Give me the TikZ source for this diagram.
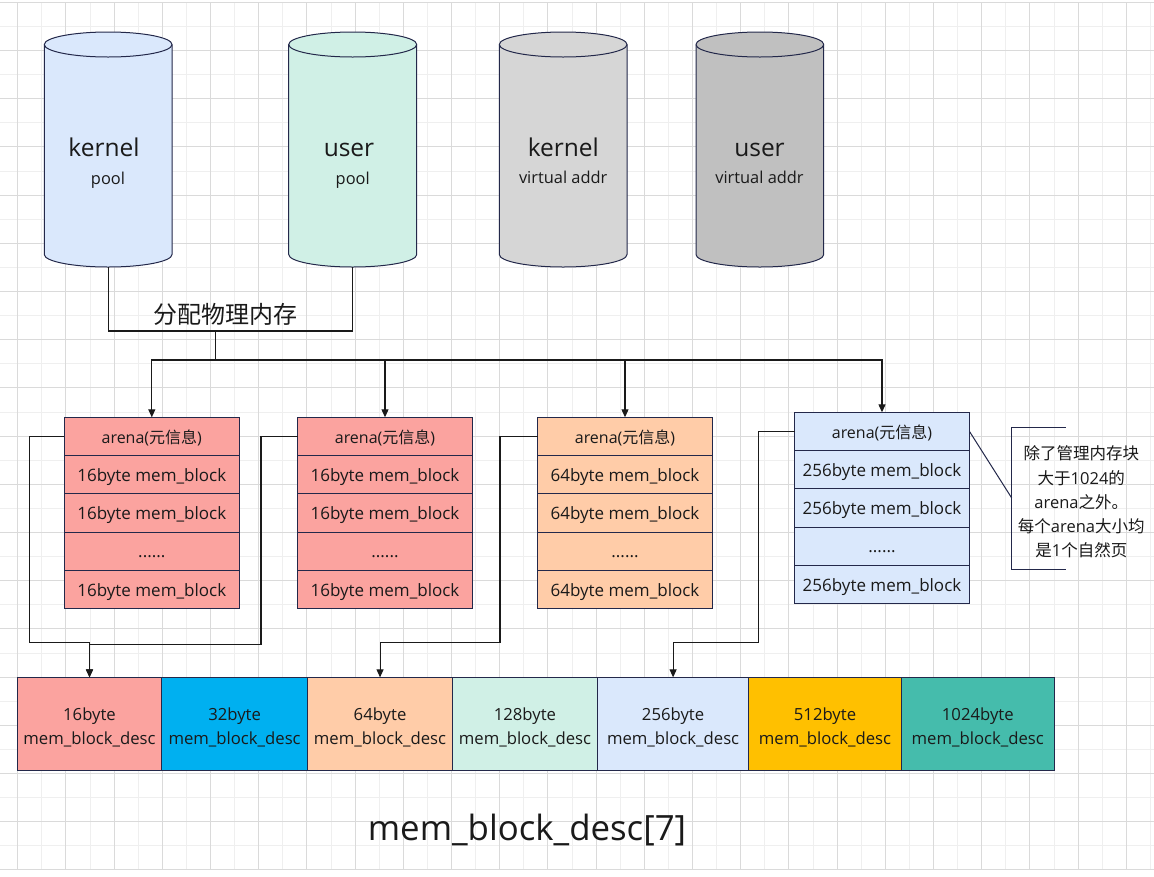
\documentclass[tikz,border=0pt]{standalone}
\usepackage{fontspec}
\setmainfont{Open Sans}
\newfontfamily\cjk{Noto Sans CJK SC}
\usetikzlibrary{arrows.meta}
\definecolor{navy}{HTML}{23284A}
\definecolor{ink}{HTML}{1A1A1A}
\definecolor{cred}{HTML}{FBA39F}
\definecolor{cora}{HTML}{FFCCA8}
\definecolor{cblue}{HTML}{DAE8FC}
\definecolor{cmint}{HTML}{D0F0E6}
\definecolor{ccyan}{HTML}{00B0F0}
\definecolor{cgold}{HTML}{FFC000}
\definecolor{cteal}{HTML}{45BCAC}
\definecolor{cgray}{HTML}{D6D6D6}
\definecolor{cgrayd}{HTML}{C0C0C0}
\definecolor{gmaj}{HTML}{DADADA}
\definecolor{gmin}{HTML}{EFEFEF}
\tikzset{
  cell/.style={draw=navy, line width=1pt, minimum width=175pt, minimum height=38.3pt,
    inner sep=0pt, outer sep=0pt, text=ink, font=\fontsize{17}{20}\selectfont,
    text height=15pt, text depth=2pt},
  hdr/.style={cell, font=\fontsize{16}{19}\selectfont, text height=16pt, text depth=2pt},
  desc/.style={draw=navy, line width=1pt, minimum height=92.7pt, inner sep=0pt,
    outer sep=0pt, text=ink, align=center, font=\fontsize{16.7}{24.3}\selectfont},
  conn/.style={draw=ink, line width=1.1pt},
  arr/.style={conn, -{Triangle[length=8pt,width=7pt]}},
  cyl/.style={draw=navy, line width=1pt},
  bigtxt/.style={font=\fontsize{24.5}{28}\selectfont, anchor=base, text=ink, inner sep=0pt},
  smalltxt/.style={font=\fontsize{16.4}{20}\selectfont, anchor=base, text=ink, inner sep=0pt},
}
\newcommand\drawcyl[5]{%
  \pgfmathsetmacro\cylrx{(#2-#1)/2}%
  \filldraw[cyl, fill=#5] (#1,#3+12.5) -- (#1,#4-12.5)
    arc[start angle=180,end angle=360,x radius=\cylrx pt,y radius=12.5pt]
    -- (#2,#3+12.5)
    arc[start angle=0,end angle=180,x radius=\cylrx pt,y radius=12.5pt] -- cycle;
  \draw[cyl] (#1,#3+12.5) arc[start angle=180,end angle=360,x radius=\cylrx pt,y radius=12.5pt];
}
\newcommand\arenabox[5]{%
  \node[hdr, fill=#5] (#1h) at (#2,#3+19.15) {arena({\cjk 元信息})};
  \node[cell, fill=#5, anchor=north] (#1r1) at (#1h.south) {#4byte mem\_block};
  \node[cell, fill=#5, anchor=north] (#1r2) at (#1r1.south) {#4byte mem\_block};
  \node[cell, fill=#5, anchor=north] (#1r3) at (#1r2.south) {......};
  \node[cell, fill=#5, anchor=north] (#1r4) at (#1r3.south) {#4byte mem\_block};
}
\newcommand\dtop{\rule{0pt}{20.7pt}}
\begin{document}
\begin{tikzpicture}[x=1pt,y=-1pt]
\useasboundingbox (0,0) rectangle (1154,876);
\fill[white] (0,0) rectangle (1154,876);
% grid
\foreach \i in {0,...,23} {
  \draw[gmin, line width=0.8pt] ({41.8+48.2*\i},2.3) -- ({41.8+48.2*\i},870);
}
\foreach \j in {0,...,17} {
  \draw[gmin, line width=0.8pt] (0,{26.4+48.2*\j}) -- (1154,{26.4+48.2*\j});
}
\foreach \i in {0,...,23} {
  \draw[gmaj, line width=0.9pt] ({17.7+48.2*\i},2.3) -- ({17.7+48.2*\i},870);
}
\foreach \j in {0,...,18} {
  \draw[gmaj, line width=0.9pt] (0,{2.3+48.2*\j}) -- (1154,{2.3+48.2*\j});
}
% cylinders
\drawcyl{44.3}{172}{32}{267}{cblue}
\drawcyl{288.7}{416.7}{32}{267}{cmint}
\drawcyl{499.3}{627}{32}{267}{cgray}
\drawcyl{696}{823.7}{32}{267}{cgrayd}
\node[bigtxt] (kpA) at (104,156.7) {kernel};
\node[smalltxt] (kpB) at (108,184.3) {pool};
\node[bigtxt] (upA) at (349,156.7) {user};
\node[smalltxt] (upB) at (352.7,184.3) {pool};
\node[bigtxt] (kvA) at (563.3,156.7) {kernel};
\node[smalltxt] (kvB) at (563.2,183.3) {virtual addr};
\node[bigtxt] (uvA) at (759.5,156.7) {user};
\node[smalltxt] (uvB) at (759.5,183.3) {virtual addr};
\coordinate (kpbot) at (108.3,267);
\coordinate (upbot) at (352.5,267);
\coordinate (split) at (215.3,331);
% allocation connector
\draw[conn] (kpbot) -- (108.3,331) -| (upbot);
\node[font={\cjk\fontsize{24}{27}\selectfont}, text=ink, inner sep=0pt] (lbl) at (225.5,314.3) {分配物理内存};
% arenas
\arenabox{a1}{151.8}{417.3}{16}{cred}
\arenabox{a2}{385}{417.3}{16}{cred}
\arenabox{a3}{625}{417.3}{64}{cora}
\arenabox{a4}{882}{412.3}{256}{cblue}
\draw[arr] (split) -- (215.3,360) -| (a1h.north);
\draw[arr] (split) -- (215.3,360) -| (a2h.north);
\draw[arr] (split) -- (215.3,360) -| (a3h.north);
\draw[arr] (split) -- (215.3,360) -| (a4h.north);
% desc array
\node[desc, fill=cred, minimum width=144pt] (d16) at (89.5,723.7) {\dtop 16byte\\mem\_block\_desc};
\node[desc, fill=ccyan, minimum width=146.2pt] (d32) at (234.6,723.7) {\dtop 32byte\\mem\_block\_desc};
\node[desc, fill=cora, minimum width=144.7pt] (d64) at (380.05,723.7) {\dtop 64byte\\mem\_block\_desc};
\node[desc, fill=cmint, minimum width=145.1pt] (d128) at (524.95,723.7) {\dtop 128byte\\mem\_block\_desc};
\node[desc, fill=cblue, minimum width=151.2pt] (d256) at (673.1,723.7) {\dtop 256byte\\mem\_block\_desc};
\node[desc, fill=cgold, minimum width=152.6pt] (d512) at (825,723.7) {\dtop 512byte\\mem\_block\_desc};
\node[desc, fill=cteal, minimum width=153pt] (d1024) at (977.8,723.7) {\dtop 1024byte\\mem\_block\_desc};
% arena -> desc connectors
\draw[arr] (a1h.west) -- (29.7,436.45) |- (89.5,642.3) -- (d16.north);
\draw[arr] (a2h.west) -- (261,436.45) |- (89.5,644.3) -- (d16.north);
\draw[arr] (a3h.west) -- (500,436.45) |- (380.05,642.3) -- (d64.north);
\draw[arr] (a4h.west) -- (758.3,431.45) |- (673.1,642.3) -- (d256.north);
% annotation
\coordinate (brk) at (1011.7,498);
\draw[navy, line width=1pt] (1065.7,427.3) -- (1011.7,427.3) -- (1011.7,569) -- (1065.7,569);
\draw[navy, line width=1pt] (a4h.east) -- (brk);
\node[align=center, font=\fontsize{16.5}{24.2}\selectfont, text=ink, inner sep=0pt] (note) at (1081.3,502)
  {{\cjk 除了管理内存块}\\{\cjk 大于}1024{\cjk 的}\\arena{\cjk 之外。}\\{\cjk 每个}arena{\cjk 大小均}\\{\cjk 是}1{\cjk 个自然页}};
% title
\node[font=\fontsize{34.8}{40}\selectfont, anchor=base, text=ink, inner sep=0pt] (title) at (527,840) {mem\_block\_desc[7]};
\end{tikzpicture}
\end{document}
